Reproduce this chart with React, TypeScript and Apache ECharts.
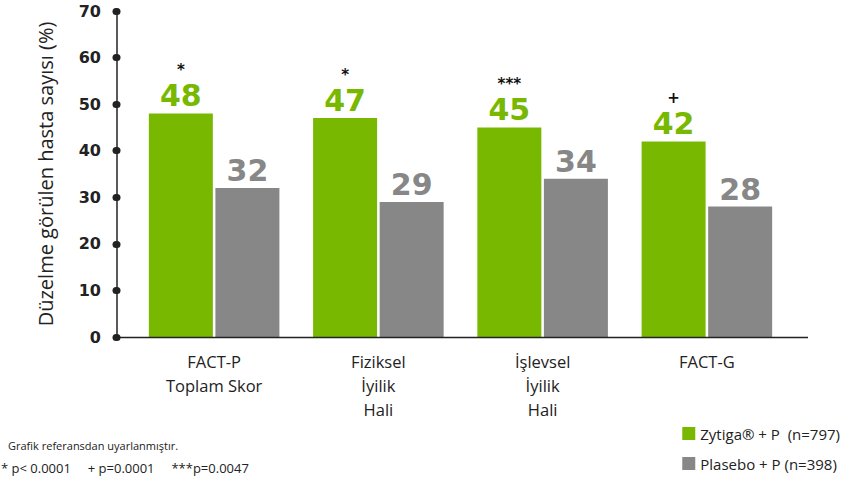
import React, { useEffect, useRef } from "react";
import * as echarts from "echarts";

const categories = ["FACT-P\nToplam Skor", "Fiziksel\nİyilik\nHali", "İşlevsel\nİyilik\nHali", "FACT-G"];
const zytigaValues = [48, 47, 45, 42];
const placeboValues = [32, 29, 34, 28];
const significance = ["*", "*", "***", "+"];
const seriesNames = ["Zytiga® + P  (n=797)", "Plasebo + P (n=398)"];
const yTicks = { min: 0, max: 70, interval: 10 };
const footnotes = ["Grafik referansdan uyarlanmıştır.", "* p< 0.0001     + p=0.0001     ***p=0.0047"];

const GREEN = "#78b800";
const GRAY = "#878787";
const DARK = "#222222";

export default function App() {
  const ref = useRef<HTMLDivElement>(null);
  useEffect(() => {
    if (!ref.current) return;
    const chart = echarts.init(ref.current, undefined, { renderer: "svg" });
    chart.setOption({
      animation: false,
      backgroundColor: "#ffffff",
      grid: { left: 132, right: 54, top: 11, bottom: 141 },
      legend: {
        orient: "vertical",
        right: 3,
        top: 426,
        padding: 0,
        itemWidth: 13,
        itemHeight: 13,
        itemGap: 15,
        icon: "rect",
        data: seriesNames,
        textStyle: { fontFamily: "Open Sans", fontSize: 15, color: DARK },
      },
      xAxis: {
        type: "category",
        data: categories,
        axisLine: { show: false },
        axisTick: { show: false },
        axisLabel: {
          interval: 0,
          margin: 12,
          fontFamily: "Open Sans",
          fontSize: 16.5,
          lineHeight: 24,
          color: DARK,
        },
      },
      yAxis: {
        type: "value",
        min: yTicks.min,
        max: yTicks.max,
        interval: yTicks.interval,
        offset: 15,
        name: "Düzelme görülen hasta sayısı (%)",
        nameLocation: "middle",
        nameRotate: 90,
        nameGap: 62,
        nameTextStyle: { fontFamily: "Open Sans", fontSize: 20, color: DARK },
        splitLine: { show: false },
        axisLine: { show: true, lineStyle: { color: DARK, width: 1.5 } },
        axisTick: { show: true, length: 1, lineStyle: { color: DARK, width: 7, cap: "round" } },
        axisLabel: {
          margin: 16,
          fontFamily: "DejaVu Sans",
          fontWeight: "bold",
          fontSize: 16,
          color: DARK,
        },
      },
      series: [
        {
          name: seriesNames[0],
          type: "bar",
          data: zytigaValues,
          barWidth: 64,
          barGap: "4%",
          itemStyle: { color: GREEN },
          label: {
            show: true,
            position: "top",
            distance: 0,
            formatter: (p: any) => `{s|${significance[p.dataIndex]}}\n{v|${p.value}}`,
            rich: {
              s: { fontFamily: "DejaVu Sans", fontWeight: "bold", fontSize: 15, color: "#111", lineHeight: 17, align: "center" },
              v: { fontFamily: "DejaVu Sans", fontWeight: "bold", fontSize: 30, color: GREEN, lineHeight: 35, align: "center" },
            },
          },
        },
        {
          name: seriesNames[1],
          type: "bar",
          data: placeboValues,
          barWidth: 64,
          itemStyle: { color: GRAY },
          label: {
            show: true,
            position: "top",
            distance: 2,
            fontFamily: "DejaVu Sans",
            fontWeight: "bold",
            fontSize: 30,
            color: GRAY,
          },
        },
      ],
      graphic: [
        { type: "line", shape: { x1: 117, y1: 337.5, x2: 808, y2: 337.5 }, style: { stroke: DARK, lineWidth: 1.5 }, z: 10 },
        {
          type: "text",
          left: 8,
          top: 440,
          style: { text: footnotes[0], fontFamily: "Liberation Sans Narrow, Open Sans", fontSize: 11, fill: DARK },
        },
        {
          type: "text",
          left: 1,
          top: 461,
          style: { text: footnotes[1], fontFamily: "Liberation Sans Narrow, Open Sans", fontSize: 13, fill: DARK },
        },
      ],
    });
    return () => chart.dispose();
  }, []);
  return <div ref={ref} style={{ position: "fixed", left: 0, top: 0, width: 843, height: 478 }} />;
}
